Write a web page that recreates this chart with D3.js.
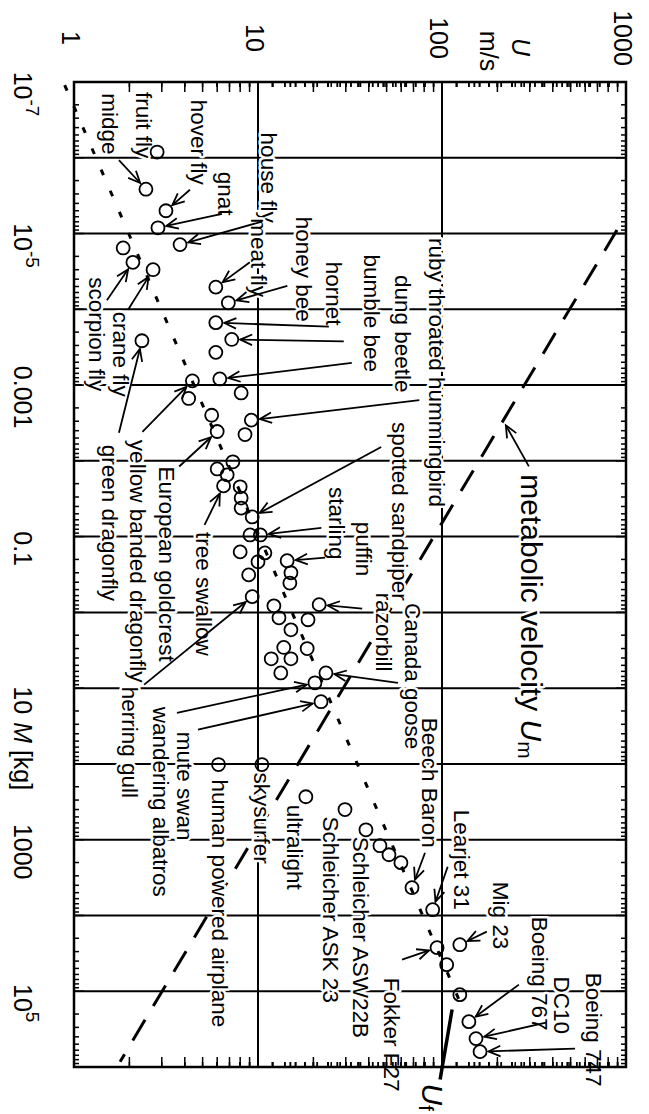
<!DOCTYPE html>
<html>
<head>
<meta charset="utf-8">
<script src="https://cdn.jsdelivr.net/npm/d3@7"></script>
<style>
  body { margin: 0; background: #fff; }
  svg { display: block; font-family: 'Liberation Sans', Arial, Helvetica, sans-serif; }
</style>
</head>
<body>
<div id="chart"></div>
<script>
'use strict';

const width = 649;
const height = 1114;

// flyers: mass in kg, speed in m/s
const names = [
	'fruit fly', 'midge', 'hover fly', 'gnat', 'house fly', '', 'scorpion fly', 'crane fly', 'meat fly', 'honey bee',
	'hornet', 'bumble bee', 'green dragonfly', '', 'dung beetle', 'yellow banded dragonfly', '', '', '', 'ruby throated hummingbird',
	'European goldcrest', '', '', '', '', 'tree swallow', '', '', '', 'spotted sandpiper',
	'', 'starling', '', '', '', 'puffin', '', '', '', 'herring gull',
	'', 'razorbill', '', '', '', '', '', '', '', '',
	'Canada goose', 'mute swan', 'wandering albatros', 'human powered airplane', 'skysurfer', 'ultralight', 'Schleicher ASK 23', 'Schleicher ASW22B', '', '',
	'', 'Beech Baron', 'Learjet 31', 'Mig 23', 'Fokker F27', '', '', 'Boeing 767', 'DC10', 'Boeing 747'
];
const masses = [
	8.4e-7, 2.6e-6, 5.0e-6, 8.4e-6, 1.4e-5, 1.55e-5, 2.4e-5, 3.0e-5, 5.1e-5, 8.2e-5,
	1.5e-4, 2.5e-4, 2.6e-4, 3.7e-4, 8.3e-4, 8.8e-4, 1.27e-3, 1.5e-3, 2.5e-3, 2.9e-3,
	4.1e-3, 4.5e-3, 0.0103, 0.0128, 0.0153, 0.0214, 0.022, 0.031, 0.042, 0.055,
	0.095, 0.095, 0.159, 0.164, 0.215, 0.208, 0.30, 0.41, 0.32, 0.62,
	0.82, 0.79, 1.18, 1.25, 1.70, 3.0, 2.9, 4.1, 4.1, 6.3,
	6.3, 8.5, 15.1, 102, 102, 271, 400, 740, 1200, 1580,
	2010, 4300, 8400, 24300, 26600, 44600, 1.11e5, 2.52e5, 4.22e5, 6.27e5
];
const speeds = [
	2.83, 2.46, 3.16, 2.86, 3.77, 1.85, 2.09, 2.69, 5.9, 6.9,
	5.9, 7.2, 2.34, 5.9, 6.2, 4.4, 8.1, 4.2, 5.6, 9.2,
	6.0, 8.5, 7.3, 6.0, 6.8, 6.5, 8.0, 8.1, 8.1, 9.3,
	9.05, 10.3, 8.0, 10.9, 10.0, 14.4, 15.1, 14.9, 8.9, 9.3,
	12.2, 21.5, 13.0, 18.7, 15.1, 18.5, 13.8, 11.8, 15.1, 13.3,
	23.4, 20.4, 22.0, 6.1, 10.5, 18.2, 29.7, 38.6, 46, 51.5,
	59.8, 68.7, 89, 125, 94, 106, 125, 140, 153, 161
];

// the two straight lines, end points
const fitMass = [1.1e-7, 1.5e5];
const fitSpeed = [0.89, 127];
const metabolicMass = [9e-6, 8.5e5];
const metabolicSpeed = [893, 1.78];

const speedTicks = [1, 10, 100, 1000];
const speedTickLabels = ['1', '10', '100', '1000'];
const massTicks = [1e-7, 1e-5, 1e-3, 0.1, 10, 1000, 1e5];
const massTickLabels = [['10', '-7'], ['10', '-5'], ['0.001'], ['0.1'], ['10'], ['1000'], ['10', '5']];

// where each label sits, px offsets from its circle (text start, arrow tail)
const labelLayout = [
	{ name: 'fruit fly', dx: -14, dy: -60 },
	{ name: 'midge', dx: -36, dy: -96, tail: [-27, -29] },
	{ name: 'hover fly', dx: 33, dy: -111, tail: [24, -21] },
	{ name: 'gnat', dx: 68, dy: -56, tail: [64, -14] },
	{ name: 'house fly', dx: 88, dy: -112, tail: [82, -23] },
	{ name: 'meat fly', dx: 43, dy: -69, tail: [34, -25] },
	{ name: 'honey bee', dx: 75, dy: -86, tail: [59, -17] },
	{ name: 'hornet', dx: 118, dy: -61, tail: [113, 4] },
	{ name: 'bumble bee', dx: 140, dy: -85, tail: [112, 2] },
	{ name: 'dung beetle', dx: 183, dy: -104, tail: [132, -16] },
	{ name: 'ruby throated hummingbird', dx: 185, dy: -182, tail: [168, -20] },
	{ name: 'spotted sandpiper', dx: 147, dy: -95, tail: [129, -70] },
	{ name: 'starling', dx: 76, dy: -48, tail: [61, -7] },
	{ name: 'puffin', dx: 76, dy: -39, tail: [38, -3] },
	{ name: 'razorbill', dx: 64, dy: -12, tail: [43, 4] },
	{ name: 'Canada goose', dx: 87, dy: -70, tail: [72, 10] },
	{ name: 'mute swan', dx: -130, dy: 49, tail: [-138, 30] },
	{ name: 'wandering albatros', dx: -161, dy: 5, tail: [-123, 28] },
	{ name: 'herring gull', dx: -123, dy: 90, tail: [-108, 88] },
	{ name: 'European goldcrest', dx: -51, dy: 35, tail: [-38, 35] },
	{ name: 'tree swallow', dx: -20, dy: 46, tail: [-19, 39] },
	{ name: 'yellow banded dragonfly', dx: -55, dy: 59, tail: [-50, 51] },
	{ name: 'green dragonfly', dx: -32, dy: 104, tail: [-23, 92] },
	{ name: 'crane fly', dx: -33, dy: 42, tail: [-25, 40] },
	{ name: 'scorpion fly', dx: -36, dy: 15, tail: [-26, 38] },
	{ name: 'human powered airplane', dx: 1, dy: 15 },
	{ name: 'skysurfer', dx: 0, dy: 8 },
	{ name: 'ultralight', dx: -11, dy: 8 },
	{ name: 'Schleicher ASK 23', dx: -14, dy: 7 },
	{ name: 'Schleicher ASW22B', dx: -5, dy: 7 },
	{ name: 'Beech Baron', dx: 17, dy: -170, tail: [13, -35] },
	{ name: 'Learjet 31', dx: 29, dy: -100, tail: [15, -43] },
	{ name: 'Mig 23', dx: 41, dy: -63, tail: [27, -13] },
	{ name: 'Fokker F27', dx: -46, dy: 30, tail: [-35, 12] },
	{ name: 'Boeing 767', dx: 71, dy: -105, tail: [50, -37] },
	{ name: 'DC10', dx: 86, dy: -62, tail: [70, -16] },
	{ name: 'Boeing 747', dx: 113, dy: -79, tail: [95, -3] }
];

// the picture is the usual plot turned a quarter turn clockwise:
// speed runs left to right, mass runs top to bottom
const x = d3.scaleLog().domain([1, 1000]).range([74, 626]);
const y = d3.scaleLog().domain([1e-7, 1e6]).range([82, 1067]);
const r = 6.5;

const svg = d3.select('#chart')
	.append('svg')
	.attr('width', width)
	.attr('height', height);

// point on a straight log-log line
function onLine(ms, us, m) {
	const t = (Math.log(m) - Math.log(ms[0])) / (Math.log(ms[1]) - Math.log(ms[0]));
	return Math.exp(Math.log(us[0]) + t * (Math.log(us[1]) - Math.log(us[0])));
}

// text turned 90 degrees, reading downwards
function vtext(g, px, py, size) {
	return g.append('text')
		.attr('transform', `translate(${px},${py}) rotate(90)`)
		.attr('dominant-baseline', 'central')
		.style('font-size', size + 'px');
}

function arrow(g, x1, y1, x2, y2, head = true) {
	g.append('line')
		.attr('x1', x1).attr('y1', y1)
		.attr('x2', x2).attr('y2', y2);
	if (!head) return;
	const a = Math.atan2(y2 - y1, x2 - x1);
	const len = 13, phi = 0.42;
	g.append('path')
		.attr('d', `M${x2 - len * Math.cos(a - phi)},${y2 - len * Math.sin(a - phi)}L${x2},${y2}L${x2 - len * Math.cos(a + phi)},${y2 - len * Math.sin(a + phi)}`)
		.attr('fill', 'none');
}

// Grid
const grid = svg.append('g')
	.attr('stroke', '#000')
	.attr('stroke-width', 2);

grid.selectAll('line.h')
	.data(y.ticks().slice(1, -1))
	.enter().append('line')
	.attr('class', 'h')
	.attr('x1', x.range()[0]).attr('x2', x.range()[1])
	.attr('y1', d => y(d)).attr('y2', d => y(d));

grid.selectAll('line.v')
	.data(speedTicks.slice(1, -1))
	.enter().append('line')
	.attr('class', 'v')
	.attr('x1', d => x(d)).attr('x2', d => x(d))
	.attr('y1', y.range()[0]).attr('y2', y.range()[1]);

// Lines U_f and U_m
const line = d3.line()
	.x(d => x(d[1]))
	.y(d => y(d[0]));

svg.append('path')
	.datum(d3.zip(fitMass, fitSpeed))
	.attr('d', line)
	.attr('fill', 'none')
	.attr('stroke', '#000')
	.attr('stroke-width', 3)
	.attr('stroke-dasharray', '6,17');

svg.append('path')
	.datum(d3.zip(metabolicMass, metabolicSpeed))
	.attr('d', line)
	.attr('fill', 'none')
	.attr('stroke', '#000')
	.attr('stroke-width', 3)
	.attr('stroke-dasharray', '24,16');

// Labels with a white halo (the grid breaks round the text)
const labels = svg.append('g')
	.attr('fill', '#000')
	.attr('stroke', '#fff')
	.attr('stroke-width', 5)
	.attr('stroke-linejoin', 'round')
	.attr('paint-order', 'stroke');

const arrows = svg.append('g')
	.attr('stroke', '#000')
	.attr('stroke-width', 1.8);

labelLayout.forEach(l => {
	const i = names.indexOf(l.name);
	const px = x(speeds[i]);
	const py = y(masses[i]);
	vtext(labels, px + l.dx, py + l.dy, 22.5).text(l.name);
	if (l.tail) {
		const tx = px + l.tail[0];
		const ty = py + l.tail[1];
		const dist = Math.hypot(px - tx, py - ty);
		const k = (dist - r - 2) / dist;
		arrow(arrows, tx, ty, tx + (px - tx) * k, ty + (py - ty) * k);
	}
});

// metabolic velocity label
const mAt = 3.3e-3;
const mx = x(onLine(metabolicMass, metabolicSpeed, mAt));
const my = y(mAt);
const mt = vtext(labels, mx + 31, my + 50, 30).text('metabolic velocity ');
mt.append('tspan').style('font-style', 'italic').text('U');
mt.append('tspan').attr('dy', '0.3em').style('font-size', '21px').text('m');
arrow(arrows, mx + 28, my + 42, mx + 5, my + 1);

// U_f label at the end of the fit line
const fx = x(fitSpeed[1]);
const fy = y(fitMass[1]);
const ft = vtext(labels, fx - 28, fy + 79, 30);
ft.append('tspan').style('font-style', 'italic').text('U');
ft.append('tspan').attr('dy', '0.3em').style('font-size', '21px').text('f');
arrows.append('line')
	.attr('x1', fx - 21).attr('y1', fy + 75)
	.attr('x2', fx - 9).attr('y2', fy + 5)
	.attr('stroke-width', 3.5);

// Circles
svg.append('g')
	.selectAll('circle')
	.data(d3.range(masses.length))
	.enter().append('circle')
	.attr('cx', i => x(speeds[i]))
	.attr('cy', i => y(masses[i]))
	.attr('r', r)
	.attr('fill', 'none')
	.attr('stroke', '#000')
	.attr('stroke-width', 1.8);

// Frame and ticks
const frame = svg.append('g')
	.attr('stroke', '#000')
	.attr('fill', 'none');

frame.append('rect')
	.attr('x', x.range()[0])
	.attr('y', y.range()[0])
	.attr('width', x.range()[1] - x.range()[0])
	.attr('height', y.range()[1] - y.range()[0])
	.attr('stroke-width', 2.5);

function minorTicks(scale) {
	const out = [];
	scale.ticks().forEach(d => {
		for (let k = 1; k < 10; k++) {
			const v = d * k;
			if (v <= scale.domain()[1]) out.push({ v, major: k === 1 });
		}
	});
	return out;
}

minorTicks(x).forEach(t => {
	const len = t.major ? 10 : 5;
	frame.append('line')
		.attr('x1', x(t.v)).attr('x2', x(t.v))
		.attr('y1', y.range()[0]).attr('y2', y.range()[0] + len)
		.attr('stroke-width', 1.5);
	frame.append('line')
		.attr('x1', x(t.v)).attr('x2', x(t.v))
		.attr('y1', y.range()[1]).attr('y2', y.range()[1] - len)
		.attr('stroke-width', 1.5);
});

minorTicks(y).forEach(t => {
	const len = t.major ? 10 : 5;
	frame.append('line')
		.attr('y1', y(t.v)).attr('y2', y(t.v))
		.attr('x1', x.range()[0]).attr('x2', x.range()[0] + len)
		.attr('stroke-width', 1.5);
	frame.append('line')
		.attr('y1', y(t.v)).attr('y2', y(t.v))
		.attr('x1', x.range()[1]).attr('x2', x.range()[1] - len)
		.attr('stroke-width', 1.5);
});

// Axis labels
const axisText = svg.append('g').attr('fill', '#000');

speedTicks.forEach((v, i) => {
	vtext(axisText, x(v) - 3, 38, 25)
		.attr('text-anchor', 'middle')
		.text(speedTickLabels[i]);
});

vtext(axisText, 521, 47, 25)
	.attr('text-anchor', 'middle')
	.style('font-style', 'italic')
	.text('U');
vtext(axisText, 489, 51, 25)
	.attr('text-anchor', 'middle')
	.text('m/s');

massTicks.forEach((v, i) => {
	const t = vtext(axisText, 23, y(v) + 12, 25).attr('text-anchor', 'middle');
	const parts = massTickLabels[i];
	t.append('tspan').text(parts[0]);
	if (parts[1]) {
		t.append('tspan')
			.attr('dy', '-0.55em')
			.style('font-size', '19px')
			.text(parts[1]);
	}
});

const mLabel = vtext(axisText, 23, y(10) + 34, 25);
mLabel.append('tspan').style('font-style', 'italic').text('M');
mLabel.append('tspan').text(' [kg]');
</script>
</body>
</html>
